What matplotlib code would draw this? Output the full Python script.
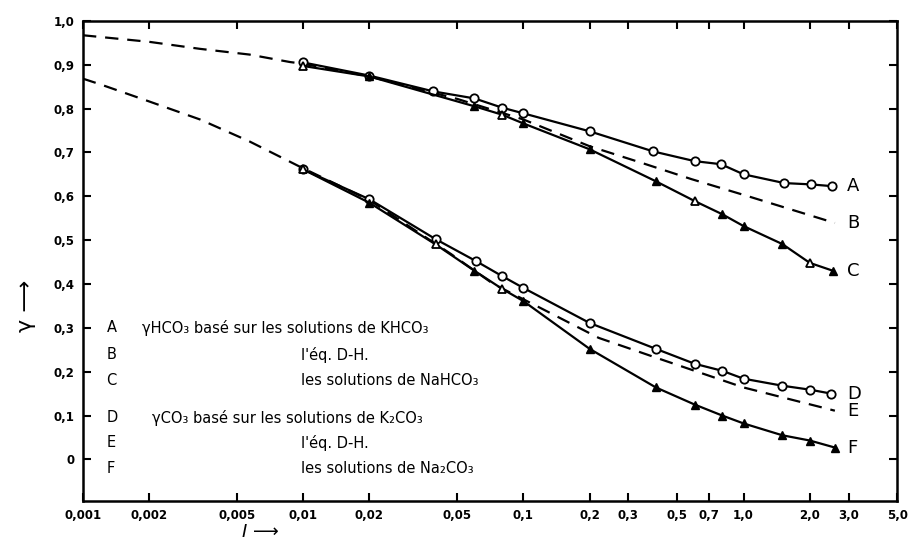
import numpy as np
import matplotlib
matplotlib.use("Agg")
import matplotlib.pyplot as plt

# ionic strength ticks
x_ticks = [0.001, 0.002, 0.005, 0.01, 0.02, 0.05, 0.1, 0.2, 0.3, 0.5, 0.7, 1.0, 2.0, 3.0, 5.0]
x_tick_labels = ["0,001", "0,002", "0,005", "0,01", "0,02", "0,05", "0,1", "0,2", "0,3",
                 "0,5", "0,7", "1,0", "2,0", "3,0", "5,0"]
y_ticks = [0, 0.1, 0.2, 0.3, 0.4, 0.5, 0.6, 0.7, 0.8, 0.9, 1.0]
y_tick_labels = ["0", "0,1", "0,2", "0,3", "0,4", "0,5", "0,6", "0,7", "0,8", "0,9", "1,0"]

# A: gamma HCO3 from KHCO3 solutions
a_x = [0.01, 0.02, 0.039, 0.06, 0.08, 0.1, 0.2, 0.39, 0.6, 0.79, 1.0, 1.53, 2.02, 2.52]
a_y = [0.905, 0.875, 0.839, 0.823, 0.802, 0.789, 0.748, 0.702, 0.680, 0.673, 0.650, 0.630, 0.627, 0.623]

# B: Debye-Hueckel for HCO3
b_x = [0.001, 0.002, 0.0034, 0.0057, 0.0087, 0.01, 0.02, 0.05, 0.1, 0.2, 0.35, 0.58, 1.08, 2.6]
b_y = [0.967, 0.952, 0.936, 0.923, 0.906, 0.902, 0.873, 0.822, 0.775, 0.714, 0.675, 0.639, 0.598, 0.539]

# C: gamma HCO3 from NaHCO3 solutions
c_x = [0.01, 0.02, 0.06, 0.08, 0.1, 0.2, 0.4, 0.6, 0.8, 1.0, 1.5, 2.0, 2.55]
c_y = [0.897, 0.873, 0.805, 0.786, 0.766, 0.707, 0.634, 0.589, 0.559, 0.532, 0.491, 0.448, 0.430]
c_filled = [False, True, True, False, True, True, True, False, True, True, True, False, True]

# D: gamma CO3 from K2CO3 solutions
d_x = [0.01, 0.02, 0.04, 0.061, 0.08, 0.1, 0.2, 0.4, 0.6, 0.8, 1.0, 1.5, 2.0, 2.5]
d_y = [0.661, 0.593, 0.502, 0.452, 0.418, 0.391, 0.311, 0.252, 0.218, 0.202, 0.184, 0.168, 0.159, 0.150]

# E: Debye-Hueckel for CO3
e_x = [0.001, 0.0012, 0.002, 0.0034, 0.0057, 0.0096, 0.02, 0.025, 0.047, 0.073, 0.122, 0.22, 0.4, 1.0, 2.6]
e_y = [0.868, 0.855, 0.816, 0.775, 0.725, 0.668, 0.591, 0.559, 0.468, 0.400, 0.343, 0.277, 0.232, 0.164, 0.111]

# F: gamma CO3 from Na2CO3 solutions
f_x = [0.01, 0.02, 0.04, 0.06, 0.08, 0.1, 0.2, 0.4, 0.6, 0.8, 1.0, 1.5, 2.0, 2.6]
f_y = [0.661, 0.585, 0.490, 0.430, 0.389, 0.361, 0.252, 0.164, 0.125, 0.100, 0.082, 0.055, 0.043, 0.027]
f_filled = [False, True, False, True, False, True, True, True, True, True, True, True, True, True]

end_labels = ["A", "B", "C", "D", "E", "F"]
end_values = [0.623, 0.539, 0.430, 0.150, 0.111, 0.027]

legend_rows = [
    ("A", "γHCO₃ basé sur les solutions de KHCO₃"),
    ("B", "l'éq. D-H."),
    ("C", "les solutions de NaHCO₃"),
    ("D", "γCO₃ basé sur les solutions de K₂CO₃"),
    ("E", "l'éq. D-H."),
    ("F", "les solutions de Na₂CO₃"),
]

fig = plt.figure(figsize=(9.12, 5.47), dpi=100)
ax = fig.add_axes([0.091, 0.084, 0.893, 0.878])

lw = 1.6
ms = 6
dash = (0, (6, 4))

ax.plot(b_x, b_y, color="black", lw=lw, ls=dash)
ax.plot(e_x, e_y, color="black", lw=lw, ls=dash)

ax.plot(a_x, a_y, color="black", lw=lw, marker="o", ms=ms, mfc="white", mec="black", mew=1.3)
ax.plot(d_x, d_y, color="black", lw=lw, marker="o", ms=ms, mfc="white", mec="black", mew=1.3)

for xs, ys, filled in [(c_x, c_y, c_filled), (f_x, f_y, f_filled)]:
    ax.plot(xs, ys, color="black", lw=lw)
    xf = [x for x, f in zip(xs, filled) if f]
    yf = [y for y, f in zip(ys, filled) if f]
    xh = [x for x, f in zip(xs, filled) if not f]
    yh = [y for y, f in zip(ys, filled) if not f]
    ax.plot(xf, yf, ls="none", marker="^", ms=ms, color="black")
    ax.plot(xh, yh, ls="none", marker="^", ms=ms, mfc="white", mec="black", mew=1.3)

ax.set_xscale("log")
ax.set_xlim(0.001, 5.0)
ax.set_ylim(-0.095, 1.0)

ax.set_xticks(x_ticks)
ax.set_xticklabels(x_tick_labels)
ax.xaxis.set_minor_locator(matplotlib.ticker.NullLocator())
ax.set_yticks(y_ticks)
ax.set_yticklabels(y_tick_labels)
ax.tick_params(axis="both", direction="in", top=True, right=True, length=6, width=1.5,
               labelsize=8.5, pad=6)
for lab in ax.get_xticklabels() + ax.get_yticklabels():
    lab.set_fontweight("bold")
for sp in ax.spines.values():
    sp.set_linewidth(1.8)

# end-of-curve letters
for lab, val in zip(end_labels, end_values):
    ax.text(2.95, val, lab, fontsize=13, va="center", ha="left")

# in-plot key
row_y = [0.300, 0.238, 0.180, 0.095, 0.038, -0.020]
for (letter, txt), yy in zip(legend_rows, row_y):
    ax.text(0.00128, yy, letter, fontsize=10.5, va="center")
    if txt.startswith("γ"):
        x0 = 0.00185 if letter == "A" else 0.00205
    else:
        x0 = 0.0098
    ax.text(x0, yy, txt, fontsize=10.5, va="center")

# axis labels with arrows
fig.text(0.028, 0.44, "γ ⟶", rotation=90, fontsize=16, ha="center", va="center")
fig.text(0.285, 0.027, "I ⟶", fontsize=13, style="italic", ha="center", va="center")

fig.savefig("out.png", dpi=100)
